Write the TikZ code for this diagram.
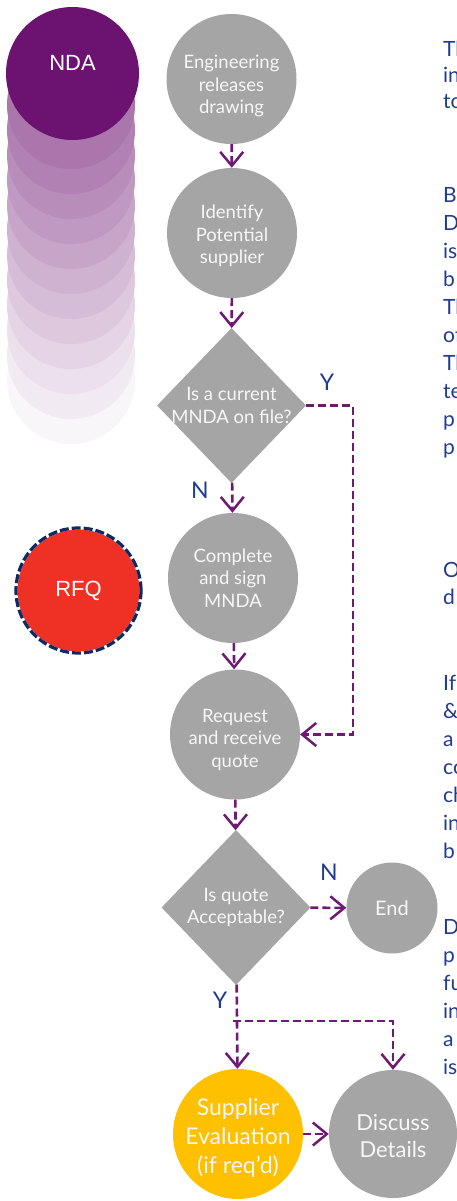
\documentclass[tikz,border=0pt]{standalone}
\usepackage{fontspec}
\setmainfont{Lato}
\newfontfamily\arialf{Liberation Sans}
\usetikzlibrary{arrows.meta,shapes.geometric}
\definecolor{gfill}{HTML}{A5A5A5}
\definecolor{ndapurple}{HTML}{6C1270}
\definecolor{flowpurple}{HTML}{6E1A72}
\definecolor{navytext}{HTML}{1F3C91}
\definecolor{rfqred}{HTML}{EE3124}
\definecolor{rfqborder}{HTML}{0D2A63}
\definecolor{amber}{HTML}{FFC000}
\definecolor{softwhite}{HTML}{F7F7F7}
\tikzset{
  proc/.style={circle, fill=gfill, minimum size=130pt, inner sep=0pt},
  ptext/.style={align=center, text=softwhite, inner sep=0pt, font=\fontsize{18.5}{22.5}\selectfont},
  bigtext/.style={ptext, font=\fontsize{22}{26.5}\selectfont},
  dia/.style={diamond, fill=gfill, minimum width=149pt, minimum height=155pt, inner sep=0pt},
  flow/.style={draw=flowpurple, line width=2.6pt, dash pattern=on 8pt off 4pt,
    -{Straight Barb[length=14pt,width=23pt,line width=2.5pt]}},
  yn/.style={text=navytext, font=\fontsize{23}{23}\selectfont, inner sep=0pt},
  side/.style={text=navytext, font=\fontsize{21}{28}\selectfont, anchor=base west, inner sep=0pt},
}
\begin{document}
\begin{tikzpicture}[x=1pt,y=-1pt]
\useasboundingbox (0,0) rectangle (456,1201);
\fill[white] (0,0) rectangle (456,1201);
% fading stack behind NDA
\foreach \i in {12,11,...,1}{
  \pgfmathtruncatemacro\f{58-(\i-1)*4.9}
  \fill[ndapurple!\f!white] (71,{105+25*(\i-1)}) circle[radius=64];
}
\node[circle, fill=ndapurple, minimum size=133pt, inner sep=0pt] (nda) at (72.5,73.5) {};
\node[text=white, font=\arialf\fontsize{22}{22}\selectfont] (ndatext) at ([yshift=11pt]nda.center) {NDA};
% RFQ
\node[circle, fill=rfqred, draw=white, line width=3pt, minimum size=125pt, inner sep=0pt,
  text=white, font=\arialf\fontsize{22}{22}\selectfont,
  postaction={draw=rfqborder, line width=3.2pt, dash pattern=on 9pt off 3pt}] (rfq) at (78.5,590.5) {RFQ};
% flow nodes
\node[proc] (eng) at (231.5,79) {};
\node[ptext] (engt) at ([yshift=-7pt]eng.center) {Engineering\\releases\\drawing};
\node[proc] (ident) at (232,233) {};
\node[ptext] (identt) at ([yshift=-3pt]ident.center) {Identify\\Potential\\supplier};
\node[dia] (d1) at (231.5,405.5) {};
\node[ptext] (d1text) at (d1) {Is a current\\MNDA on file?};
\node[proc] (cmp) at (233,578) {};
\node[ptext] (cmpt) at (cmp.center) {Complete\\and sign\\MNDA};
\node[proc] (req) at (235,734.5) {};
\node[ptext] (reqt) at ([yshift=-5pt]req.center) {Request\\and receive\\quote};
\node[dia] (d2) at (236,907.5) {};
\node[ptext] (d2text) at (d2) {Is quote\\Acceptable?};
\node[proc, minimum size=91pt] (end) at (392,908) {};
\node[ptext, font=\fontsize{20}{24}\selectfont] (endt) at (end.center) {End};
\node[proc, fill=amber] (sup) at (238,1134) {};
\node[bigtext, font=\fontsize{23}{29}\selectfont] (supt) at ([yshift=-4pt]sup.center) {Supplier\\Evaluation\\(if req’d)};
\node[proc, minimum size=128pt] (disc) at (393,1134) {};
\node[bigtext] (disct) at ([yshift=-2pt]disc.center) {Discuss\\Details};
% labels
\node[yn] (y1) at (327,382) {Y};
\node[yn] (n1) at (200,490) {N};
\node[yn] (n2) at (329,872) {N};
\node[yn] (y2) at (220,1000) {Y};
% connectors
\draw[flow] (eng) -- (ident);
\draw[flow] (ident) -- (d1);
\draw[flow] (d1) -- (cmp);
\draw[flow] (cmp) -- (req);
\draw[flow] (req) -- (d2);
\coordinate (ycorner) at (353,405.5);
\draw[flow] (d1.east) -- (ycorner) |- (req.east);
\draw[flow] (d2) -- (end);
\draw[flow] (d2) -- (sup);
\coordinate (split) at (233,1021);
\draw[flow] (split) -| (disc.north);
\draw[flow] (sup) -- (disc);
% right column text (cut at the edge, as in the reference)
\node[side] (s1) at (443,57) {Th};
\node[side] (s2) at (443,83) {in};
\node[side] (s3) at (443,109) {to};
\node[side] (s4) at (443,202) {B};
\node[side] (s5) at (443,230) {D};
\node[side] (s6) at (443,258) {is};
\node[side] (s7) at (443,286) {b};
\node[side] (s8) at (443,314) {Th};
\node[side] (s9) at (443,342) {of};
\node[side] (s10) at (443,370) {Th};
\node[side] (s11) at (443,398) {te};
\node[side] (s12) at (443,426) {p};
\node[side] (s13) at (443,454) {p};
\node[side] (s14) at (443,577) {O};
\node[side] (s15) at (443,604) {d};
\node[side] (s16) at (443,690) {If};
\node[side] (s17) at (443,718) {\&};
\node[side] (s18) at (443,746) {a};
\node[side] (s19) at (443,774) {co};
\node[side] (s20) at (443,802) {ch};
\node[side] (s21) at (443,830) {in};
\node[side] (s22) at (443,858) {b};
\node[side] (s23) at (443,934) {D};
\node[side] (s24) at (443,962) {p};
\node[side] (s25) at (443,990) {fu};
\node[side] (s26) at (443,1018) {in};
\node[side] (s27) at (443,1046) {a};
\node[side] (s28) at (443,1074) {is};
\end{tikzpicture}
\end{document}
